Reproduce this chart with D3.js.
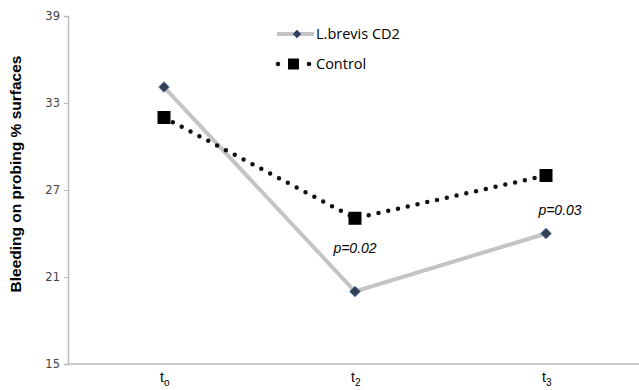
<!DOCTYPE html>
<html>
<head>
<meta charset="utf-8">
<script src="https://cdn.jsdelivr.net/npm/d3@7"></script>
<style>
  body { margin: 0; background: #fff; }
  .tick text { font-family: "DejaVu Sans", sans-serif; fill: #444; }
</style>
</head>
<body>
<div id="chart"></div>
<script>
// datos
const timepoints = ["t0", "t2", "t3"];
const subLabels = ["o", "2", "3"];
const brevisValues = [34.1, 20.0, 24.0];
const controlValues = [32.0, 25.05, 28.0];
const yTicks = [15, 21, 27, 33, 39];
const pLabels = [null, "p=0.02", "p=0.03"];

const WIDTH = 639, HEIGHT = 390;
const margin = {top: 16, right: 0, bottom: 26, left: 68};
const width = WIDTH - margin.left - margin.right;
const height = HEIGHT - margin.top - margin.bottom;

const svg = d3.select('#chart').append('svg')
    .attr('width', WIDTH).attr('height', HEIGHT);
const g = svg.append('g')
    .attr('transform', `translate(${margin.left},${margin.top})`);

const x = d3.scalePoint().domain(timepoints).range([96, 478]);
const y = d3.scaleLinear().domain([15, 39]).range([height, 0]);

// ejes
const yAxis = g.append('g').call(d3.axisLeft(y).tickValues(yTicks).tickSize(4).tickPadding(4));
yAxis.select('.domain').attr('stroke', '#bbb').attr('stroke-width', 1.5);
yAxis.selectAll('.tick line').attr('stroke', '#bbb');
yAxis.selectAll('.tick text').style('font-size', '11.5px');

g.append('line')
    .attr('x1', 0).attr('x2', width)
    .attr('y1', height).attr('y2', height)
    .attr('stroke', '#bbb').attr('stroke-width', 1.5);

// etiquetas del eje x con subindice
const xl = g.selectAll('.xlab').data(timepoints).enter().append('text')
    .attr('class', 'xlab')
    .attr('x', d => x(d) - 4)
    .attr('y', height + 18)
    .style('font-family', 'Liberation Sans, Arial, sans-serif')
    .style('font-size', '14px');
xl.append('tspan').text('t');
xl.append('tspan').attr('dy', 4).style('font-size', '10px').text((d, i) => subLabels[i]);

// titulo eje y
svg.append('text')
    .attr('transform', `translate(21, 174) rotate(-90)`)
    .attr('text-anchor', 'middle')
    .style('font-family', 'Liberation Sans, Arial, sans-serif')
    .style('font-size', '15.5px')
    .style('font-weight', 'bold')
    .text('Bleeding on probing % surfaces');

// linea L.brevis
const line = d3.line().x((d, i) => x(timepoints[i])).y(d => y(d));

g.append('path').datum(brevisValues)
    .attr('d', line)
    .attr('fill', 'none').attr('stroke', '#c4c4c4').attr('stroke-width', 4);

// linea control punteada
g.append('path').datum(controlValues)
    .attr('d', line)
    .attr('fill', 'none').attr('stroke', '#111').attr('stroke-width', 4.5)
    .attr('stroke-linecap', 'round').attr('stroke-dasharray', '0 10');

const diamond = d3.symbol().type(d3.symbolDiamond2).size(70);

g.selectAll('.brevis').data(brevisValues).enter().append('path')
    .attr('transform', (d, i) => `translate(${x(timepoints[i])},${y(d)})`)
    .attr('d', diamond)
    .attr('fill', '#34404f').attr('stroke', '#4c6fa8').attr('stroke-width', 1);

g.selectAll('.control').data(controlValues).enter().append('rect')
    .attr('x', (d, i) => x(timepoints[i]) - 6.5)
    .attr('y', d => y(d) - 6.5)
    .attr('width', 13).attr('height', 13)
    .attr('fill', '#000');

// valores p
g.selectAll('.pval').data(pLabels).enter()
    .filter(d => d !== null)
    .append('text')
    .attr('x', (d, i) => x(timepoints[pLabels.indexOf(d)]) + (pLabels.indexOf(d) === 2 ? 14 : 0))
    .attr('y', d => {
        const i = pLabels.indexOf(d);
        return i === 1 ? y(controlValues[i]) + 35 : y(controlValues[i]) + 39;
    })
    .attr('text-anchor', 'middle')
    .style('font-family', 'Liberation Sans, Arial, sans-serif')
    .style('font-size', '14px')
    .style('font-style', 'italic')
    .text(d => d);

// leyenda
const legend = svg.append('g').attr('transform', 'translate(277, 34)');
legend.append('line').attr('x1', 0).attr('x2', 37).attr('y1', 0).attr('y2', 0)
    .attr('stroke', '#c4c4c4').attr('stroke-width', 4);
legend.append('path').attr('transform', 'translate(20,0)')
    .attr('d', d3.symbol().type(d3.symbolDiamond2).size(40))
    .attr('fill', '#34404f').attr('stroke', '#4c6fa8').attr('stroke-width', 1);
legend.append('text').attr('x', 39).attr('y', 5)
    .style('font-family', 'Open Sans, sans-serif').style('font-size', '14.5px')
    .text('L.brevis CD2');

legend.selectAll('.ldot').data([1, 32]).enter().append('circle')
    .attr('cx', d => d).attr('cy', 30).attr('r', 2.3).attr('fill', '#111');
legend.append('rect').attr('x', 11).attr('y', 24.5).attr('width', 11).attr('height', 11).attr('fill', '#000');
legend.append('text').attr('x', 39).attr('y', 35)
    .style('font-family', 'Open Sans, sans-serif').style('font-size', '14.5px')
    .text('Control');
</script>
</body>
</html>
